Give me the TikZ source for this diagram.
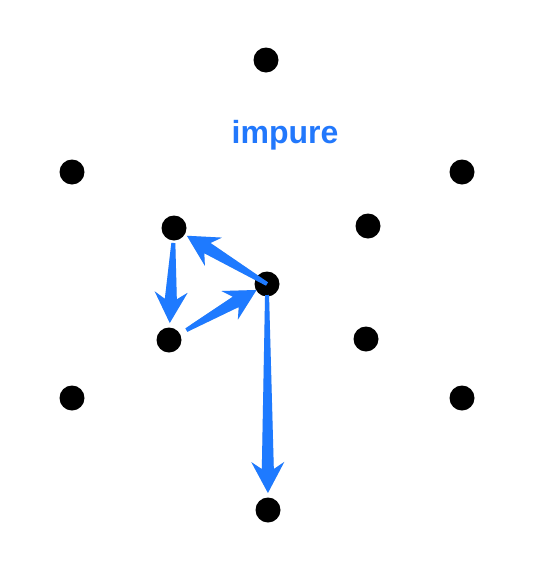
\documentclass[tikz,border=0pt]{standalone}
\usepackage{fontspec}
\setmainfont{Liberation Sans}
\usetikzlibrary{calc}
\definecolor{arrowblue}{RGB}{30,122,255}
\definecolor{textblue}{RGB}{34,120,252}
\tikzset{
  dot/.style={circle,fill=black,inner sep=0pt,minimum size=25pt},
  lbl/.style={font=\fontsize{32}{32}\selectfont\bfseries,inner sep=0pt,anchor=base},
}
\newcommand\tarrshape{%
  ($(s)!2pt!90:(t)$) -- ($(hj)!6pt!90:(t)$) -- ($(hb)!16.5pt!90:(t)$) -- (t)
    -- ($(hb)!16.5pt!-90:(t)$) -- ($(hj)!6pt!-90:(t)$) -- ($(s)!2pt!-90:(t)$) -- cycle}
\newcommand\tarr[4]{%
  \path ($(#1)!#3!(#2)$) coordinate (s) ($(#2)!#4!(#1)$) coordinate (t);
  \path ($(t)!31pt!(s)$) coordinate (hb) ($(t)!24pt!(s)$) coordinate (hj);
  \begin{scope}[shift={(1.2,1.8)}]
    \fill[black,opacity=0.12] \tarrshape;
  \end{scope}
  \fill[arrowblue] \tarrshape;
}
\begin{document}
\begin{tikzpicture}[x=1pt,y=-1pt]
\useasboundingbox (0,0) rectangle (538,563);
\node[dot] (T) at (266,60) {};
\node[dot] (UL) at (72,172) {};
\node[dot] (UR) at (462,172) {};
\node[dot] (TL) at (174,228) {};
\node[dot] (TR) at (368,226) {};
\node[dot] (C) at (267,284) {};
\node[dot] (ML) at (169,340) {};
\node[dot] (MR) at (366,339) {};
\node[dot] (LL) at (72,398) {};
\node[dot] (LR) at (462,398) {};
\node[dot] (B) at (268,510) {};
\node[lbl,text=textblue] (label) at (285,143) {impure};
% arrows
\tarr{C}{TL}{0pt}{15pt}
\tarr{TL}{ML}{15pt}{17pt}
\tarr{ML}{C}{20pt}{12pt}
\tarr{C}{B}{11pt}{17pt}
\end{tikzpicture}
\end{document}
